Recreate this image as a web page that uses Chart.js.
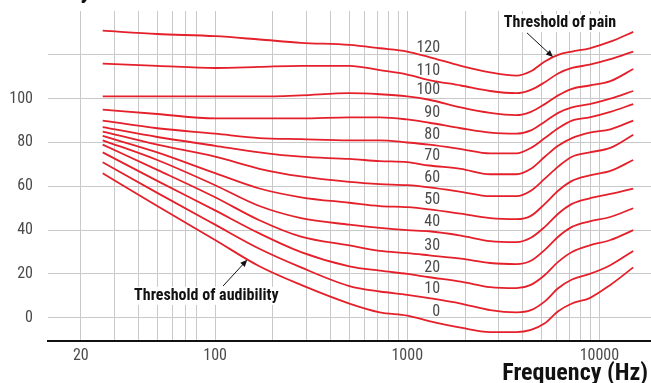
<!DOCTYPE html>
<html>
<head>
<meta charset="utf-8">
<title>Equal-loudness contours</title>
<script src="https://cdn.jsdelivr.net/npm/chart.js@4.4.1/dist/chart.umd.min.js"></script>
<style>
  html, body { margin: 0; padding: 0; background: #fff; }
  #wrap { width: 651px; height: 383px; position: relative; }
</style>
</head>
<body>
<div id="wrap"><canvas id="loudnessChart"></canvas></div>
<script>
// equal-loudness contours: sound level (dB) at each frequency (Hz), one array per phon level
const frequencies = [26, 50, 100, 170, 280, 500, 720, 1000, 1300, 1900, 2700, 3700, 4400, 5200, 6100, 7200, 8900, 11400, 15000];
const phonLevels = [0, 10, 20, 30, 40, 50, 60, 70, 80, 90, 100, 110, 120];

const spl0   = [66, 51, 35.5, 23.5, 15, 6.5, 2.5, 1, -1.5, -4.5, -6.5, -6.5, -5.5, -2.5, 3, 6.5, 9, 15, 23];
const spl10  = [71, 57, 42.5, 31.5, 23, 14.5, 12, 10.5, 9, 6.5, 3.5, 2.5, 3.5, 7.5, 13.5, 17.5, 20, 24, 30.5];
const spl20  = [75.5, 62.5, 49, 38.5, 30, 23.5, 21.5, 20, 18.5, 16.5, 14, 13.5, 15, 19.5, 25.5, 30, 33, 35.5, 40];
const spl30  = [79, 67.5, 55, 44.5, 37, 33, 30.5, 29.5, 28.5, 27, 25, 24.5, 26, 31, 37, 41.5, 44, 46, 50];
const spl40  = [81, 72, 60.5, 51, 45.5, 42.5, 41, 40, 39.5, 37.5, 35, 34.5, 36.5, 41.5, 47.5, 52, 54.5, 56.5, 59];
const spl50  = [83, 75.5, 66, 59, 55, 52.5, 51, 50.5, 49.5, 47.5, 45.5, 45, 46.5, 52, 58, 62.5, 65, 67, 72];
const spl60  = [85, 79, 73.5, 68, 64.5, 62, 61, 60.5, 59.5, 57.5, 55.5, 55.5, 58, 63.5, 69, 73.5, 75.5, 77.5, 83.5];
const spl70  = [87, 82.5, 78.5, 75.5, 73.5, 72.5, 71.5, 71, 69.5, 68, 65.5, 65.5, 68, 73.5, 78.5, 82, 84.5, 86, 90];
const spl80  = [90, 86.5, 84, 82, 81.5, 81, 81, 80, 79, 77, 75, 75, 77.5, 82, 86.5, 90, 91.5, 94, 97.5];
const spl90  = [95, 93, 91, 91, 91, 91.5, 91.5, 90.5, 89, 86.5, 84.5, 84, 85.5, 89.5, 93.5, 96, 97.5, 100, 103.5];
const spl100 = [101, 101, 101, 101, 101.5, 102.5, 102, 101, 99.5, 96, 93.5, 92.5, 94, 97.5, 101.5, 104.5, 106, 108, 113.5];
const spl110 = [116, 115, 114, 114.5, 115, 115, 113, 111, 108.5, 106, 103.5, 102.5, 104, 107.5, 111.5, 114, 115.5, 118, 121.5];
const spl120 = [131, 129.5, 128.5, 127, 125.5, 124.5, 123, 121.5, 119, 115, 112, 110.5, 112.5, 117, 120, 121.5, 123, 126, 130.5];

const contours = [spl0, spl10, spl20, spl30, spl40, spl50, spl60, spl70, spl80, spl90, spl100, spl110, spl120];

// grid and tick labels
const xTicks = [20, 30, 40, 50, 60, 70, 80, 100, 200, 300, 400, 500, 600, 700, 800, 900, 1000,
                2000, 3000, 4000, 5000, 6000, 7000, 8000, 9000, 10000];
const xTickLabels = [20, 100, 1000, 10000];
const yTicks = [0, 20, 40, 60, 80, 100, 120];
const yTickLabels = [0, 20, 40, 60, 80, 100];

// phon numbers are written at this frequency, just above each curve
const labelFrequency = 1300;

// callouts: [frequency, dB] for text centre, arrow tail and arrow head
const callouts = [
  { label: 'Threshold of audibility', text: [90, 10], from: [110, 14.5], to: [147, 26.5] },
  { label: 'Threshold of pain', text: [6240, 134.5], from: [4200, 130], to: [5735, 119] }
];

const FONT = "'Liberation Sans Narrow', 'Roboto Condensed', Roboto, sans-serif";
const RED = '#e4202a';
const GRID = '#c9c9c9';
const INK = '#4a4a4a';

const overlay = {
  id: 'overlay',
  afterDatasetsDraw(chart) {
    const { ctx, scales: { x, y } } = chart;
    ctx.save();

    // phon level above each contour
    ctx.font = '16px ' + FONT;
    ctx.fillStyle = INK;
    ctx.textAlign = 'right';
    ctx.textBaseline = 'middle';
    const idx = frequencies.indexOf(labelFrequency);
    phonLevels.forEach((lvl, i) => {
      const pt = chart.getDatasetMeta(i).data[idx];
      ctx.fillText(String(lvl), pt.x + 11, pt.y - 9.5);
    });

    // threshold callouts with arrows
    ctx.font = 'bold 16px ' + FONT;
    ctx.textAlign = 'center';
    callouts.forEach(c => {
      const tx = x.getPixelForValue(c.text[0]);
      const ty = y.getPixelForValue(c.text[1]);
      const w = ctx.measureText(c.label).width;
      ctx.fillStyle = '#fff';
      ctx.fillRect(tx - w / 2 - 3, ty - 9, w + 6, 18);
      ctx.fillStyle = '#111';
      ctx.fillText(c.label, tx, ty);

      const x0 = x.getPixelForValue(c.from[0]), y0 = y.getPixelForValue(c.from[1]);
      const x1 = x.getPixelForValue(c.to[0]), y1 = y.getPixelForValue(c.to[1]);
      const a = Math.atan2(y1 - y0, x1 - x0);
      ctx.strokeStyle = '#111';
      ctx.lineWidth = 1;
      ctx.beginPath();
      ctx.moveTo(x0, y0);
      ctx.lineTo(x1 - 4 * Math.cos(a), y1 - 4 * Math.sin(a));
      ctx.stroke();
      ctx.beginPath();
      ctx.moveTo(x1, y1);
      ctx.lineTo(x1 - 7 * Math.cos(a) + 3 * Math.sin(a), y1 - 7 * Math.sin(a) - 3 * Math.cos(a));
      ctx.lineTo(x1 - 7 * Math.cos(a) - 3 * Math.sin(a), y1 - 7 * Math.sin(a) + 3 * Math.cos(a));
      ctx.closePath();
      ctx.fill();
    });

    // axis titles
    ctx.fillStyle = '#111';
    ctx.font = 'bold 24px ' + FONT;
    ctx.textAlign = 'right';
    ctx.textBaseline = 'alphabetic';
    ctx.fillText('Frequency (Hz)', chart.width - 3, chart.height - 3);
    ctx.fillText('Intensity', 91, -2);
    ctx.restore();
  }
};

const ctx = document.getElementById('loudnessChart').getContext('2d');

const chart = new Chart(ctx, {
  type: 'line',
  data: {
    datasets: contours.map((vals, i) => ({
      label: phonLevels[i] + ' phon',
      data: frequencies.map((f, j) => ({ x: f, y: vals[j] })),
      borderColor: RED,
      borderWidth: 1.8,
      pointRadius: 0,
      fill: false,
      cubicInterpolationMode: 'monotone'
    }))
  },
  options: {
    responsive: true,
    maintainAspectRatio: false,
    animation: false,
    layout: { padding: { top: 11, right: 0, bottom: 11, left: 0 } },
    plugins: {
      legend: { display: false },
      tooltip: { enabled: false }
    },
    scales: {
      x: {
        type: 'logarithmic',
        min: 13.5,
        max: 18560,
        bounds: 'data',
        afterBuildTicks: s => { s.ticks = xTicks.map(v => ({ value: v })); },
        afterFit: s => { s.paddingLeft = 0; s.paddingRight = 0; },
        ticks: {
          autoSkip: false,
          maxRotation: 0,
          padding: 6,
          color: INK,
          font: { family: FONT, size: 16 },
          callback: v => xTickLabels.includes(v) ? String(v) : ''
        },
        grid: { color: GRID, drawTicks: false },
        border: { display: true, color: '#111', width: 2 }
      },
      y: {
        type: 'linear',
        min: -10.5,
        max: 140,
        afterBuildTicks: s => { s.ticks = yTicks.map(v => ({ value: v })); },
        afterFit: s => { s.width = 48; s.paddingTop = 0; s.paddingBottom = 0; },
        ticks: {
          padding: 15,
          color: INK,
          font: { family: FONT, size: 16 },
          callback: v => yTickLabels.includes(v) ? String(v) : ''
        },
        grid: { color: GRID, drawTicks: false },
        border: { display: false }
      }
    }
  },
  plugins: [overlay]
});
</script>
</body>
</html>
